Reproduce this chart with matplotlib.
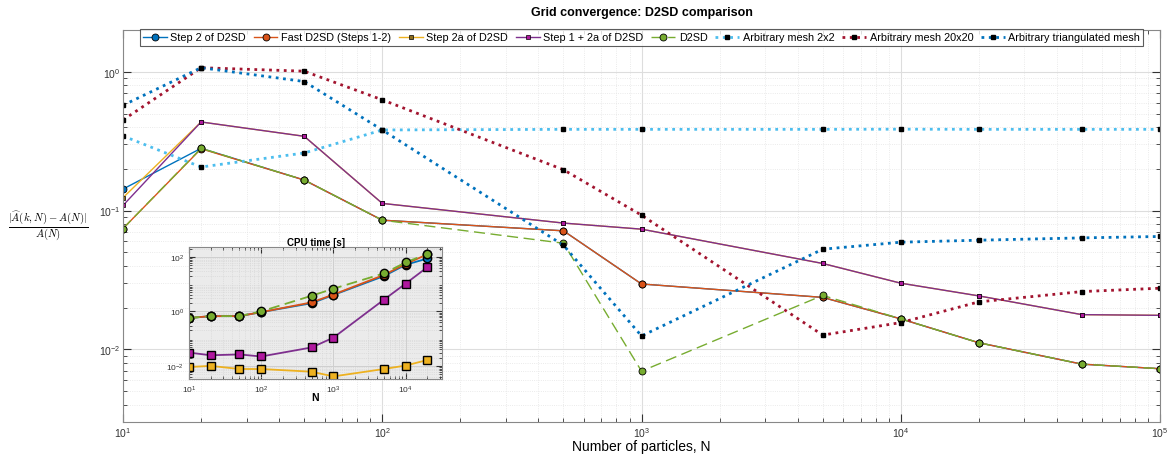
import matplotlib
matplotlib.use("Agg")
import matplotlib.pyplot as plt
from matplotlib.ticker import LogLocator, NullFormatter

plt.rcParams['font.family'] = ['Liberation Sans', 'DejaVu Sans']
plt.rcParams['mathtext.fontset'] = 'cm'

N = [10, 20, 50, 100, 500, 1000, 5000, 10000, 20000, 50000, 100000]

step2 = [0.143, 0.281, 0.166, 0.0853, 0.0715, 0.0296, 0.0237, 0.0166, 0.01117, 0.00783, 0.00726]
fast = [0.0743, 0.279, 0.166, 0.0853, 0.0715, 0.0296, 0.0237, 0.0166, 0.01117, 0.00783, 0.00726]
step2a = [0.124, 0.435, 0.343, 0.1127, 0.0813, 0.0735, 0.0416, 0.030, 0.0243, 0.0178, 0.0176]
step1_2a = [0.109, 0.435, 0.343, 0.1127, 0.0813, 0.0735, 0.0416, 0.030, 0.0243, 0.0178, 0.0176]
d2sd = [0.0743, 0.281, 0.166, 0.0853, 0.0582, 0.00697, 0.0245, 0.0166, 0.01117, 0.00783, 0.00726]
mesh2x2 = [0.345, 0.206, 0.26, 0.381, 0.385, 0.385, 0.385, 0.386, 0.385, 0.385, 0.385]
mesh20x20 = [0.45, 1.07, 1.01, 0.628, 0.197, 0.0927, 0.01268, 0.0156, 0.022, 0.0261, 0.0276]
meshtri = [0.574, 1.07, 0.851, 0.381, 0.0563, 0.0125, 0.0527, 0.0592, 0.0612, 0.0636, 0.0651]

N_cpu = [10, 20, 50, 100, 500, 1000, 5000, 10000, 20000]
cpu_step2 = [0.57, 0.67, 0.67, 0.94, 2.0, 4.0, 19.8, 51.5, 87.6]
cpu_fast = [0.57, 0.67, 0.67, 0.94, 2.14, 4.16, 21.8, 55.0, 125.0]
cpu_step2a = [0.00906, 0.0100, 0.00767, 0.00767, 0.0061, 0.0041, 0.00767, 0.0103, 0.0164]
cpu_step1_2a = [0.0308, 0.0245, 0.0263, 0.0221, 0.0475, 0.1086, 2.7, 10.5, 42.3]
cpu_d2sd = [0.57, 0.67, 0.67, 1.0, 3.76, 6.8, 24.9, 63.0, 130.0]

c_blue = '#0072BD'
c_orange = '#D95319'
c_yellow = '#EDB120'
c_purple = '#7E2F8E'
c_green = '#77AC30'
c_lblue = '#4DBEEE'
c_red = '#A2142F'
c_mag = '#B0189F'

fig = plt.figure(figsize=(11.73, 4.56), dpi=100)
ax = fig.add_axes([0.1049, 0.0724, 0.884, 0.8596])

ms_c = 5
ms_s = 3.5
ax.plot(N, step2, '-', color=c_blue, lw=1, marker='o', ms=ms_c, mfc=c_blue, mec='k', mew=0.6, label='Step 2 of D2SD')
ax.plot(N, fast, '-', color=c_orange, lw=1, marker='o', ms=ms_c, mfc=c_orange, mec='k', mew=0.6, label='Fast D2SD (Steps 1-2)')
ax.plot(N, step2a, '-', color=c_yellow, lw=1, marker='s', ms=ms_s, mfc='#8C6D1F', mec='k', mew=0.5, label='Step 2a of D2SD')
ax.plot(N, step1_2a, '-', color=c_purple, lw=1, marker='s', ms=ms_s, mfc=c_mag, mec='k', mew=0.5, label='Step 1 + 2a of D2SD')
ax.plot(N, d2sd, '--', color=c_green, lw=1, dashes=(8, 4), marker='o', ms=ms_c, mfc=c_green, mec='k', mew=0.6, label='D2SD')
ax.plot(N, mesh2x2, ':', color=c_lblue, lw=2, marker='s', ms=3, mfc='k', mec='k', label='Arbitrary mesh 2x2')
ax.plot(N, mesh20x20, ':', color=c_red, lw=2, marker='s', ms=3, mfc='k', mec='k', label='Arbitrary mesh 20x20')
ax.plot(N, meshtri, ':', color=c_blue, lw=2, marker='s', ms=3, mfc='k', mec='k', label='Arbitrary triangulated mesh')

ax.set_xscale('log')
ax.set_yscale('log')
ax.set_xlim(10, 1e5)
ax.set_ylim(0.003, 2.0)
ax.grid(True, which='major', color='#DDDDDD', lw=0.8)
ax.grid(True, which='minor', color='#E4E4E4', lw=0.6, ls=':')
ax.tick_params(which='both', direction='in', labelsize=7.5, colors='#333333', top=True, right=True)
ax.tick_params(which='major', length=6, pad=2)
ax.tick_params(which='minor', length=3)
for s in ax.spines.values():
    s.set_color('#888888')
ax.yaxis.set_minor_formatter(NullFormatter())
ax.set_xlabel('Number of particles, N', fontsize=10, labelpad=0)
ax.set_ylabel(r'$\frac{|\widehat{A}(k,N)-A(N)|}{A(N)}$', rotation=0, fontsize=11, va='center', ha='center')
ax.yaxis.set_label_coords(-0.072, 0.5)
ax.set_title('Grid convergence: D2SD comparison', fontsize=9, fontweight='bold', pad=11)

leg = ax.legend(loc='upper center', ncol=8, fontsize=7.8, frameon=True, fancybox=False,
                edgecolor='#333333', handlelength=2.2, columnspacing=0.7, handletextpad=0.35,
                borderaxespad=0.1, borderpad=0.3, bbox_to_anchor=(0.5, 1.005))
leg.get_frame().set_linewidth(0.8)

# inset
axi = fig.add_axes([0.161, 0.1667, 0.216, 0.2893])
axi.set_facecolor('#EBEBEB')
mi = 6
axi.plot(N_cpu, cpu_step2, '-', color=c_blue, lw=1.3, marker='o', ms=mi, mfc=c_blue, mec='k', mew=1)
axi.plot(N_cpu, cpu_fast, '-', color=c_orange, lw=1.3, marker='o', ms=mi, mfc=c_orange, mec='k', mew=1)
axi.plot(N_cpu, cpu_step2a, '-', color=c_yellow, lw=1.3, marker='s', ms=5.5, mfc=c_yellow, mec='k', mew=1)
axi.plot(N_cpu, cpu_step1_2a, '-', color=c_purple, lw=1.3, marker='s', ms=5.5, mfc=c_mag, mec='k', mew=1)
axi.plot(N_cpu, cpu_d2sd, '--', color=c_green, lw=1.3, dashes=(6, 3), marker='o', ms=mi, mfc=c_green, mec='k', mew=1)
axi.set_xscale('log')
axi.set_yscale('log')
axi.set_xlim(10, 3.2e4)
axi.set_ylim(0.0033, 230)
axi.set_yticks([1e-2, 1, 1e2])
axi.yaxis.set_minor_locator(LogLocator(base=10, subs=range(2, 10), numticks=20))
axi.yaxis.set_minor_formatter(NullFormatter())
axi.grid(True, which='major', color='#CFCFCF', lw=0.7)
axi.grid(True, which='minor', color='#D2D2D2', lw=0.5, ls=':')
axi.tick_params(which='both', direction='in', labelsize=6, colors='#333333', top=True, right=True)
axi.tick_params(which='major', length=4)
axi.tick_params(which='minor', length=2)
for s in axi.spines.values():
    s.set_color('#888888')
axi.set_title('CPU time [s]', fontsize=7, fontweight='bold', pad=-9)
axi.set_xlabel('N', fontsize=7.5, fontweight='bold', labelpad=-2)

fig.savefig('out.png', dpi=100)
